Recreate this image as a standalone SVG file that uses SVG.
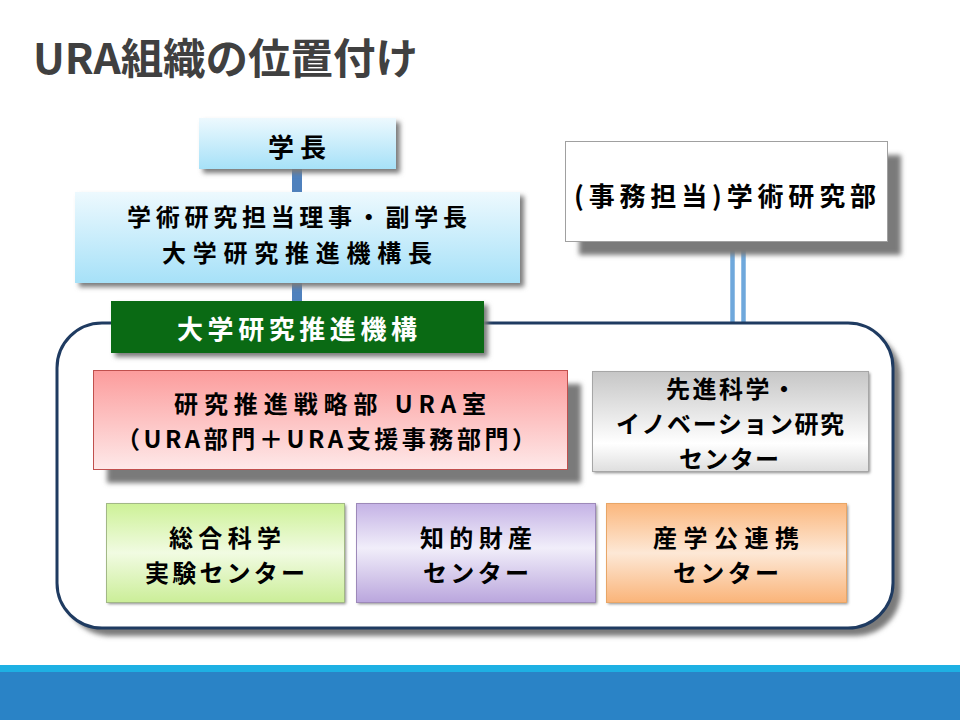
<svg xmlns="http://www.w3.org/2000/svg" width="960" height="720" viewBox="0 0 960 720">
<defs>
<style>
.t{font-family:"Noto Sans CJK JP","Noto Sans CJK SC",sans-serif;font-weight:bold;font-size:24px;fill:#000;text-anchor:middle;dominant-baseline:central}
.b{font-size:26px}
.w{fill:#fff}
.sh{fill:#7a7a7a;filter:url(#blur)}
.shs{fill:#8a8a8a;filter:url(#blur2)}
</style>
<filter id="blur" x="-10%" y="-20%" width="120%" height="140%"><feGaussianBlur stdDeviation="2.5"/></filter>
<filter id="blur2" x="-10%" y="-20%" width="120%" height="140%"><feGaussianBlur stdDeviation="1.5"/></filter>
<linearGradient id="gCyan" x1="0" y1="0" x2="0" y2="1"><stop offset="0" stop-color="#edf9fe"/><stop offset="1" stop-color="#a6e1f8"/></linearGradient>
<linearGradient id="gRed" x1="0" y1="0" x2="0" y2="1"><stop offset="0" stop-color="#fc9c9c"/><stop offset="1" stop-color="#fee9e9"/></linearGradient>
<linearGradient id="gGray" x1="0" y1="0" x2="0" y2="1"><stop offset="0" stop-color="#c6c6c6"/><stop offset="0.72" stop-color="#ffffff"/><stop offset="1" stop-color="#dedede"/></linearGradient>
<linearGradient id="gLime" x1="0" y1="0" x2="0" y2="1"><stop offset="0" stop-color="#cdf197"/><stop offset="0.5" stop-color="#f1fbe2"/><stop offset="1" stop-color="#cbee98"/></linearGradient>
<linearGradient id="gPurple" x1="0" y1="0" x2="0" y2="1"><stop offset="0" stop-color="#c4b2e5"/><stop offset="0.45" stop-color="#f1eefa"/><stop offset="1" stop-color="#baa6dd"/></linearGradient>
<linearGradient id="gOrange" x1="0" y1="0" x2="0" y2="1"><stop offset="0" stop-color="#fbb77d"/><stop offset="0.5" stop-color="#fde8d6"/><stop offset="1" stop-color="#fab479"/></linearGradient>
</defs>
<rect width="960" height="720" fill="#ffffff"/>
<text x="33" y="74" font-family="'Noto Sans CJK JP',sans-serif" font-weight="bold" font-size="42" fill="#404040" textLength="385" lengthAdjust="spacingAndGlyphs">URA組織の位置付け</text>
<rect x="0" y="665" width="960" height="8" fill="#1eb0e3"/>
<rect x="0" y="672" width="960" height="48" fill="#2a83c6"/>

<g id="connectors">
<rect x="292" y="166" width="10" height="30" fill="#4f81bd"/>
<rect x="292" y="280" width="10" height="24" fill="#4f81bd"/>
<line x1="732.5" y1="236" x2="732.5" y2="324" stroke="#6fa8dc" stroke-width="4.5"/>
<line x1="743.5" y1="236" x2="743.5" y2="324" stroke="#6fa8dc" stroke-width="4.5"/>
</g>

<g id="outer">
<rect class="sh" x="65" y="331" width="836" height="305" rx="45"/>
<rect x="57" y="323" width="836" height="305" rx="45" fill="#ffffff" stroke="#1f3b61" stroke-width="3"/>
</g>

<g id="president">
<rect class="sh" x="203" y="122" width="197" height="51"/>
<rect x="199" y="118" width="197" height="51" fill="url(#gCyan)"/>
<text class="t b" x="297" y="145" textLength="58">学長</text>
</g>

<g id="vice">
<rect class="sh" x="79" y="196" width="445" height="91"/>
<rect x="75" y="192" width="445" height="91" fill="url(#gCyan)"/>
<text class="t" x="297" y="215" textLength="340">学術研究担当理事・副学長</text>
<text class="t" x="297" y="251" textLength="270">大学研究推進機構長</text>
</g>

<g id="kikou">
<rect class="sh" x="115" y="305" width="373" height="52"/>
<rect x="111" y="301" width="373" height="52" fill="#0a6a14"/>
<text class="t b w" x="297" y="327" textLength="240">大学研究推進機構</text>
</g>

<g id="gakujutsu">
<rect class="sh" x="579" y="155" width="322" height="100"/>
<rect x="565.5" y="141.5" width="322" height="100" fill="#ffffff" stroke="#a0a0a0" stroke-width="1"/>
<text class="t b" x="725" y="194" textLength="302">(事務担当)学術研究部</text>
</g>

<g id="ura">
<rect class="sh" x="107" y="384" width="474" height="99"/>
<rect x="93.5" y="370.5" width="474" height="99" fill="url(#gRed)" stroke="#c0504d" stroke-width="1"/>
<text class="t" x="330" y="402" textLength="312">研究推進戦略部 URA室</text>
<text class="t" x="326" y="437" textLength="420">（URA部門＋URA支援事務部門）</text>
</g>

<g id="innovation">
<rect class="shs" x="594" y="373" width="276" height="100"/>
<rect x="592.5" y="371.5" width="276" height="100" fill="url(#gGray)" stroke="#a6a6a6" stroke-width="1"/>
<text class="t" x="731" y="387" textLength="130">先進科学・</text>
<text class="t" x="730" y="422" textLength="228">イノベーション研究</text>
<text class="t" x="729" y="457" textLength="100">センター</text>
</g>

<g id="sogo">
<rect class="shs" x="108" y="505" width="238" height="99"/>
<rect x="106.5" y="503.5" width="238" height="99" fill="url(#gLime)" stroke="#a2b886" stroke-width="1"/>
<text class="t" x="225" y="536" textLength="112">総合科学</text>
<text class="t" x="225" y="571" textLength="160">実験センター</text>
</g>

<g id="chiteki">
<rect class="shs" x="358" y="505" width="239" height="99"/>
<rect x="356.5" y="503.5" width="239" height="99" fill="url(#gPurple)" stroke="#9d89b9" stroke-width="1"/>
<text class="t" x="476" y="536" textLength="112">知的財産</text>
<text class="t" x="476" y="571" textLength="106">センター</text>
</g>

<g id="sangaku">
<rect class="shs" x="608" y="505" width="240" height="99"/>
<rect x="606.5" y="503.5" width="240" height="99" fill="url(#gOrange)" stroke="#e8a667" stroke-width="1"/>
<text class="t" x="726" y="536" textLength="146">産学公連携</text>
<text class="t" x="726" y="571" textLength="106">センター</text>
</g>
</svg>
